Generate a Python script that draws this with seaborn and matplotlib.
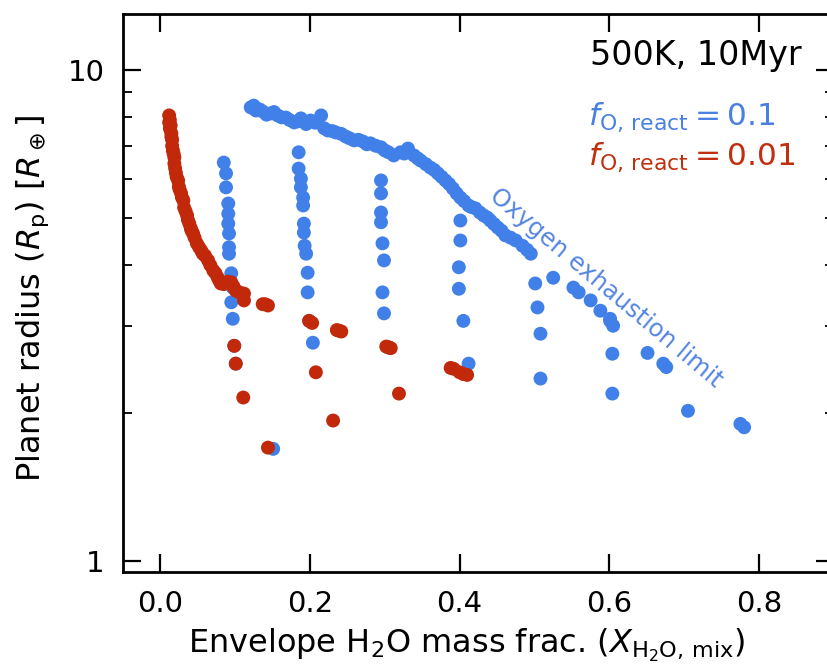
import numpy as np
import pandas as pd
import matplotlib
matplotlib.use("Agg")
import matplotlib.pyplot as plt
import seaborn as sns
from matplotlib.ticker import LogLocator, NullFormatter

sns.set_style("ticks")
plt.rcParams['font.family'] = ['DejaVu Sans']
plt.rcParams['mathtext.fontset'] = 'dejavusans'
for k in ["text.color", "axes.labelcolor", "xtick.color", "ytick.color", "axes.edgecolor"]:
    plt.rcParams[k] = "black"

# ---- data: f_O,react = 0.1 (blue) ----
blue_limit_x = [0.121, 0.125, 0.128, 0.133, 0.137, 0.142, 0.148, 0.152, 0.157, 0.162, 0.168, 0.173,
                0.179, 0.184, 0.188, 0.195, 0.201, 0.207, 0.215, 0.219, 0.224, 0.230, 0.235, 0.242,
                0.248, 0.253, 0.259, 0.265, 0.271, 0.276, 0.281, 0.288, 0.295, 0.300, 0.305, 0.312,
                0.321, 0.326, 0.331, 0.339, 0.344, 0.348, 0.355, 0.361, 0.366, 0.371, 0.376, 0.381,
                0.386, 0.391, 0.396, 0.401, 0.406, 0.412, 0.416, 0.421, 0.427, 0.432, 0.437, 0.441,
                0.446, 0.451, 0.456, 0.461, 0.468, 0.475, 0.484, 0.490, 0.495, 0.525, 0.552, 0.559,
                0.575, 0.588, 0.601, 0.605, 0.651, 0.672, 0.676, 0.705, 0.775, 0.780]
blue_limit_y = [8.38, 8.45, 8.26, 8.30, 8.22, 8.10, 8.15, 8.20, 8.07, 8.00, 7.99, 7.90,
                7.81, 7.85, 7.96, 7.75, 7.88, 7.80, 8.07, 7.60, 7.52, 7.50, 7.45, 7.40,
                7.31, 7.25, 7.18, 7.20, 7.14, 7.05, 7.08, 7.00, 6.95, 6.85, 6.79, 6.69,
                6.79, 6.75, 6.91, 6.69, 6.60, 6.53, 6.42, 6.32, 6.25, 6.15, 6.05, 5.95,
                5.85, 5.73, 5.60, 5.49, 5.40, 5.29, 5.25, 5.22, 5.12, 5.05, 5.00, 4.93,
                4.85, 4.77, 4.70, 4.60, 4.55, 4.49, 4.38, 4.30, 4.22, 3.77, 3.60, 3.52,
                3.39, 3.23, 3.11, 3.01, 2.65, 2.52, 2.48, 2.02, 1.90, 1.87]
blue_cols_x = [0.085, 0.088, 0.088, 0.091, 0.091, 0.091, 0.092, 0.092, 0.092, 0.095, 0.097, 0.095, 0.097, 0.099, 0.101,
               0.151,
               0.185, 0.185, 0.188, 0.188, 0.191, 0.191, 0.192, 0.192, 0.193, 0.195, 0.197, 0.197, 0.199, 0.204,
               0.295, 0.295, 0.295, 0.295, 0.297, 0.299, 0.297, 0.299, 0.305,
               0.401, 0.401, 0.399, 0.399, 0.405, 0.412,
               0.501, 0.504, 0.508, 0.508,
               0.601, 0.604, 0.604]
blue_cols_y = [6.47, 6.15, 5.76, 5.34, 5.09, 4.86, 4.64, 4.35, 4.22, 3.85, 3.60, 3.36, 3.11, 2.74, 2.52,
               1.69,
               6.79, 6.29, 6.00, 5.76, 5.49, 5.29, 4.86, 4.66, 4.38, 4.22, 3.86, 3.52, 3.08, 2.78,
               5.95, 5.60, 5.12, 4.89, 4.43, 4.09, 3.52, 3.19, 2.72,
               4.93, 4.49, 3.96, 3.58, 3.08, 2.52,
               3.67, 3.28, 2.90, 2.35,
               3.08, 2.64, 2.19]

# ---- data: f_O,react = 0.01 (red) ----
red_x = [0.012, 0.012, 0.013, 0.013, 0.014, 0.015, 0.015, 0.016, 0.016, 0.017, 0.018, 0.019, 0.019,
         0.020, 0.021, 0.022, 0.024, 0.025, 0.026, 0.028, 0.029, 0.031, 0.032, 0.034, 0.036, 0.037,
         0.039, 0.041, 0.042, 0.044, 0.046, 0.049, 0.052, 0.055, 0.057, 0.060, 0.064, 0.067, 0.071,
         0.074, 0.077, 0.079, 0.081, 0.085, 0.090, 0.095, 0.098, 0.101, 0.106, 0.112, 0.112, 0.137,
         0.140, 0.144, 0.199, 0.203, 0.236, 0.239, 0.242, 0.302, 0.305, 0.308, 0.388, 0.392, 0.400,
         0.405, 0.410,
         0.099, 0.101, 0.111, 0.144, 0.208, 0.231, 0.319]
red_y = [8.07, 7.81, 7.90, 7.59, 7.70, 7.42, 7.30, 7.20, 7.00, 6.85, 6.75, 6.63, 6.44,
         6.30, 6.17, 6.05, 5.95, 5.78, 5.70, 5.60, 5.50, 5.42, 5.24, 5.15, 5.05, 4.95,
         4.86, 4.75, 4.70, 4.64, 4.55, 4.43, 4.35, 4.28, 4.22, 4.18, 4.09, 4.00, 3.90,
         3.85, 3.77, 3.72, 3.67, 3.66, 3.70, 3.69, 3.62, 3.55, 3.52, 3.50, 3.39, 3.33,
         3.33, 3.31, 3.08, 3.05, 2.95, 2.94, 2.93, 2.73, 2.72, 2.71, 2.47, 2.46, 2.42,
         2.40, 2.39,
         2.74, 2.52, 2.15, 1.70, 2.42, 1.93, 2.19]

BLUE = "#4080e8"
RED = "#c2280a"

bx = blue_limit_x + blue_cols_x
by = blue_limit_y + blue_cols_y
df = pd.DataFrame({
    "x": bx + red_x,
    "y": by + red_y,
    "series": ["0.1"] * len(bx) + ["0.01"] * len(red_x),
})

fig = plt.figure(figsize=(8.28, 6.65), dpi=100)
ax = fig.add_axes([0.1482, 0.1403, 0.859, 0.839])

sns.scatterplot(data=df, x="x", y="y", hue="series",
                palette={"0.1": BLUE, "0.01": RED},
                s=100, linewidth=0, legend=False, ax=ax, zorder=3)

ax.set_yscale("log")
ax.set_xlim(-0.05, 0.9)
ax.set_ylim(0.95, 13)

xticks = [0.0, 0.2, 0.4, 0.6, 0.8]
xticklabels = ["0.0", "0.2", "0.4", "0.6", "0.8"]
yticks = [1, 10]
yticklabels = ["1", "10"]
ax.set_xticks(xticks)
ax.set_xticklabels(xticklabels)
ax.set_yticks(yticks)
ax.set_yticklabels(yticklabels)
ax.yaxis.set_minor_locator(LogLocator(base=10, subs=np.arange(2, 10)))
ax.yaxis.set_minor_formatter(NullFormatter())

ax.tick_params(axis="both", which="major", direction="in", length=13, width=1.6,
               top=True, right=True, labelsize=21, pad=13)
ax.tick_params(axis="y", which="minor", direction="in", length=6.5, width=1.3,
               left=True, right=True)
for sp in ax.spines.values():
    sp.set_linewidth(2.0)
    sp.set_visible(True)

ax.set_xlabel(r"Envelope H$_2$O mass frac. ($X_{\rm H_2O,\,mix}$)", fontsize=23)
ax.xaxis.label.set_va("baseline")
ax.xaxis.set_label_coords(0.484, -0.1458)
ax.set_ylabel(r"Planet radius ($R_{\rm p}$) [$R_\oplus$]", fontsize=23)
ax.yaxis.label.set_va("baseline")
ax.yaxis.set_label_coords(-0.117, 0.49)

fig.text(802 / 828, 1 - 65 / 665, "500K, 10Myr", fontsize=24, ha="right", va="baseline", color="black")
fig.text(588 / 828, 1 - 125 / 665, r"$f_{\rm O,\,react} = 0.1$", fontsize=22.5, ha="left", va="baseline", color="#4a80e2")
fig.text(588 / 828, 1 - 165 / 665, r"$f_{\rm O,\,react} = 0.01$", fontsize=22.5, ha="left", va="baseline", color="#c0300e")

ax.text(0.596, 3.60, "Oxygen exhaustion limit", fontsize=17.5, color="#5585e2",
        rotation=-40, rotation_mode="anchor", ha="center", va="center", zorder=4)

fig.savefig("out.png", dpi=100)
